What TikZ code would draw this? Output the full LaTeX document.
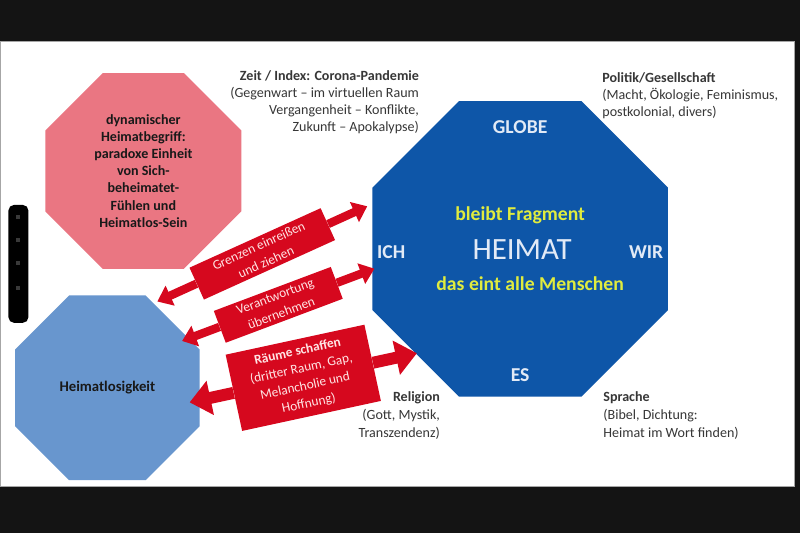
\documentclass[tikz,border=0pt]{standalone}
\usepackage{fontspec}
\setmainfont{Carlito}
\usetikzlibrary{shapes,arrows.meta,positioning,calc}
\definecolor{screenblack}{RGB}{20,20,20}
\definecolor{octopink}{RGB}{234,118,130}
\definecolor{octolight}{RGB}{104,150,206}
\definecolor{octoblue}{RGB}{14,86,168}
\definecolor{arrowred}{RGB}{214,8,30}
\definecolor{fragyellow}{RGB}{224,236,62}
\definecolor{notegray}{RGB}{55,55,55}
\definecolor{labelwhite}{RGB}{226,234,246}
\tikzset{
    octo/.style={
        regular polygon,
        regular polygon sides=8,
        inner sep=0pt,
        align=center,
        text=black!90,
        font=\bfseries\fontsize{10}{12.2}\selectfont,
    },
    redbox/.style={
        rectangle,
        fill=arrowred,
        text=red!10!white,
        align=center,
        inner sep=1pt,
        font=\fontsize{9.5}{12.6}\selectfont,
    },
    redshaft/.style={
        draw=arrowred,
        line width=6pt,
        -{Triangle[length=10pt,width=15pt]},
    },
    bigshaft/.style={
        draw=arrowred,
        line width=8.5pt,
        -{Triangle[length=15pt,width=24pt]},
    },
    note/.style={
        text=notegray,
        inner sep=0pt,
        font=\fontsize{10}{12.2}\selectfont,
    },
    octolabel/.style={
        text=labelwhite,
        inner sep=0pt,
        font=\bfseries\fontsize{14}{16}\selectfont,
    },
    fragment/.style={
        text=fragyellow,
        inner sep=0pt,
        font=\bfseries\fontsize{14}{16}\selectfont,
    },
}
\begin{document}
\begin{tikzpicture}[x=0.025cm, y=-0.025cm]
    % screen and slide
    \fill[screenblack] (0,0) rectangle (800,533);
    \fill[white, draw=gray!70, line width=0.6pt] (0,41) rectangle (794,487);
    \useasboundingbox (0,0) rectangle (800,533);
    \fill[black, rounded corners=4pt] (8,205) rectangle (28,323);
    \foreach \y in {217,240,263,288}
        \fill[gray!45!black] (16,\y-2) rectangle (20,\y+2);

    % octagons
    \node [octo, fill=octopink, minimum size=5.3cm] (dynamisch) at (143,171)
        {dynamischer\\Heimatbegriff:\\paradoxe Einheit\\von Sich-\\beheimatet-\\Fühlen und\\Heimatlos-Sein};
    \node [octo, fill=octolight, minimum size=5cm, font=\bfseries\fontsize{10.5}{12}\selectfont] (heimatlos) at (107,388) {Heimatlosigkeit};
    \node [octo, fill=octoblue, minimum size=8cm] (heimat) at (520,249) {};

    \node [octolabel] (globe) at (520,127) {GLOBE};
    \node [octolabel] (ich) at (391,252) {ICH};
    \node [octolabel] (wir) at (646,252) {WIR};
    \node [octolabel] (es) at (520,375) {ES};
    \node [text=labelwhite, inner sep=0pt, font=\fontsize{22}{24}\selectfont] (heimatword) at (522,250) {HEIMAT};
    \node [fragment] (bleibt) at (520,215) {bleibt Fragment};
    \node [fragment] (eint) at (530,284) {das eint alle Menschen};

    % red double arrows
    \node [redbox, rotate=24.4, minimum width=3.6cm, minimum height=0.875cm] (grenzen) at (262,254)
        {Grenzen einreißen\\und ziehen};
    \draw [redshaft] (grenzen.west) -- ++(204.4:1.075cm);
    \draw [redshaft] (grenzen.east) -- ++(24.4:1.075cm);

    \node [redbox, rotate=20.6, minimum width=3.125cm, minimum height=0.85cm] (verantwortung) at (278,305)
        {Verantwortung\\übernehmen};
    \draw [redshaft] (verantwortung.west) -- ++(200.6:1cm);
    \draw [redshaft] (verantwortung.east) -- ++(20.6:1cm);

    \node [redbox, rotate=12.2, minimum width=3.55cm, minimum height=1.95cm] (raeume) at (303,378)
        {\textbf{Räume schaffen}\\(dritter Raum, Gap,\\Melancholie und\\Hoffnung)};
    \draw [bigshaft] (raeume.west) -- ++(192.2:1.125cm);
    \draw [bigshaft] (raeume.east) -- ++(12.2:1.125cm);

    % notes
    \node [note, anchor=north east, align=right] (zeit) at (419,70)
        {\textbf{Zeit / Index: Corona-Pandemie}\\(Gegenwart – im virtuellen Raum\\Vergangenheit – Konflikte,\\Zukunft – Apokalypse)};
    \node [note, anchor=north west, align=left] (politik) at (602,72)
        {\textbf{Politik/Gesellschaft}\\(Macht, Ökologie, Feminismus,\\postkolonial, divers)};
    \node [note, anchor=north east, align=right, font=\fontsize{10}{12.8}\selectfont] (religion) at (440,392)
        {\textbf{Religion}\\(Gott, Mystik,\\Transzendenz)};
    \node [note, anchor=north west, align=left, font=\fontsize{10}{12.8}\selectfont] (sprache) at (603,392)
        {\textbf{Sprache}\\(Bibel, Dichtung:\\Heimat im Wort finden)};
\end{tikzpicture}
\end{document}
